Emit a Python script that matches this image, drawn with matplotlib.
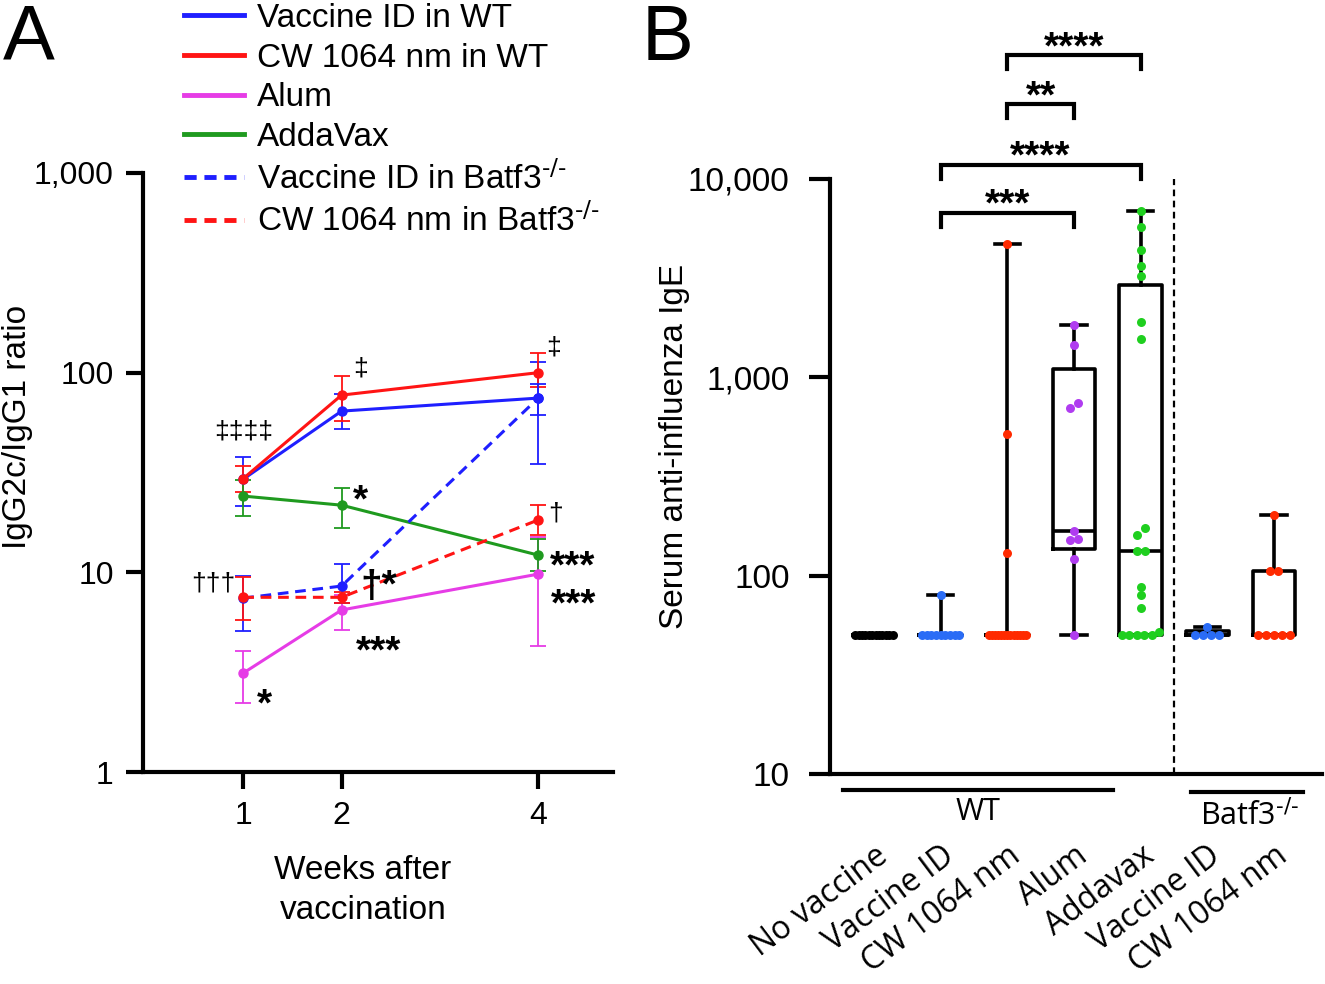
import numpy as np
import matplotlib
matplotlib.use("Agg")
import matplotlib.pyplot as plt
from matplotlib.lines import Line2D
from matplotlib.ticker import FixedLocator, NullLocator

plt.rcParams["font.family"] = ["Liberation Sans", "DejaVu Sans"]
plt.rcParams["mathtext.default"] = "regular"

# ---- panel A: IgG2c/IgG1 ratio, mean and error-bar ends
weeks = [1, 2, 4]
a_labels = ["Vaccine ID in WT", "CW 1064 nm in WT", "Alum", "AddaVax",
            "Vaccine ID in Batf3$^{\\text{-/-}}$", "CW 1064 nm in Batf3$^{\\text{-/-}}$"]
a_colors = ["#1f1fff", "#ff1414", "#e63ce6", "#1f9a1f", "#1f1fff", "#ff1414"]
a_styles = ["-", "-", "-", "-", "--", "--"]
a_mean = [[29.3, 64.2, 74.6],
          [29.5, 77.2, 100.0],
          [3.13, 6.48, 9.8],
          [24.1, 21.7, 12.2],
          [7.43, 8.54, 74.6],
          [7.5, 7.5, 18.3]]
a_low = [[21.5, 52.2, 61.1],
         [25.2, 57.2, 85.0],
         [2.21, 5.14, 4.29],
         [19.1, 16.7, 10.2],
         [5.08, 7.0, 35.0],
         [5.75, 7.0, 15.3]]
a_high = [[37.8, 78.0, 113.5],
          [34.1, 96.5, 125.0],
          [4.05, 7.7, 15.0],
          [29.0, 26.5, 14.7],
          [9.58, 11.0, 87.7],
          [9.45, 8.0, 21.7]]
# significance marks (week, value, text)
a_marks = [(1.0, 51, "\u2021\u2021\u2021\u2021"), (2.19, 105, "\u2021"), (4.16, 134, "\u2021"),
           (2.19, 25.8, "*"), (4.18, 19.8, "\u2020"), (4.35, 12.1, "***"),
           (4.36, 7.8, "***"), (2.38, 9.7, "\u2020*"), (0.70, 8.84, "\u2020\u2020\u2020"),
           (2.38, 4.53, "***"), (1.22, 2.46, "*")]

# ---- panel B: serum anti-influenza IgE per mouse
b_groups = ["No vaccine", "Vaccine ID", "CW 1064 nm", "Alum", "Addavax",
            "Vaccine ID", "CW 1064 nm"]
b_colors = ["#000000", "#2a6cf6", "#ff2a00", "#b03cf0", "#1fcf1f", "#2a6cf6", "#ff2a00"]
b_values = [[50] * 12,
            [80] + [50] * 9,
            [4700, 520, 130] + [50] * 13,
            [1840, 1460, 740, 700, 168, 153, 151, 121, 50],
            [6860, 5720, 4380, 3650, 3240, 1910, 1560, 173, 160, 133, 133,
             88, 80, 69, 52, 50, 50, 50, 50, 50],
            [55, 50, 50, 50, 50],
            [202, 106, 106, 50, 50, 50, 50, 50]]
b_pairs = [(1, 3, "***"), (1, 4, "****"), (2, 3, "**"), (2, 4, "****")]
b_pair_levels = [0.943, 1.024, 1.126, 1.208]


def spread(vals, gap=0.035, step=0.12, width=0.56):
    v = np.sort(np.asarray(vals, float))
    lv = np.log10(v)
    xs = np.zeros(len(v))
    start = 0
    for i in range(1, len(v) + 1):
        if i == len(v) or lv[i] - lv[i - 1] > gap:
            k = i - start
            s = min(step, width / (k - 1)) if k > 1 else 0
            xs[start:i] = (np.arange(k) - (k - 1) / 2) * s
            start = i
    return v, xs


fig = plt.figure(figsize=(13.25, 9.84), dpi=100)
axA = fig.add_axes([0.1079, 0.2154, 0.3547, 0.6088])
axB = fig.add_axes([0.6264, 0.2134, 0.3713, 0.6047])

# ---------------- panel A
for lab, col, ls, m, lo, hi in zip(a_labels, a_colors, a_styles, a_mean, a_low, a_high):
    m = np.array(m)
    err = [m - np.array(lo), np.array(hi) - m]
    dash = (0, (3.5, 2.2)) if ls == "--" else "-"
    axA.errorbar(weeks, m, yerr=err, color=col, ls=dash, lw=2.2, marker="o", ms=6.5,
                 elinewidth=1.3, capsize=6, capthick=1.3)

axA.set_yscale("log")
axA.set_ylim(1, 1000)
axA.set_xlim(-0.02, 4.76)
axA.yaxis.set_major_locator(FixedLocator([1, 10, 100, 1000]))
axA.yaxis.set_minor_locator(NullLocator())
axA.set_yticklabels(["1", "10", "100", "1,000"])
axA.set_xticks(weeks)
axA.set_xticklabels([str(w) for w in weeks])
for s in ["top", "right"]:
    axA.spines[s].set_visible(False)
for s in ["left", "bottom"]:
    axA.spines[s].set_linewidth(3)
axA.tick_params(axis="both", width=3, length=12, labelsize=23, pad=9)
axA.set_ylabel("IgG2c/IgG1 ratio", fontsize=24)
axA.yaxis.set_label_coords(-0.234, 0.576)
axA.set_xlabel("Weeks after\nvaccination", fontsize=24, linespacing=1.4)
axA.xaxis.set_label_coords(0.468, -0.138)

for x, y, t in a_marks:
    if "*" in t:
        axA.annotate(t, (x, y), xytext=(0, -8.5), textcoords="offset points",
                     ha="center", va="center", fontsize=28, fontweight="bold")
    else:
        axA.annotate(t, (x, y), ha="center", va="center", fontsize=19)

handles = []
for col, ls in zip(a_colors, a_styles):
    dash = (0, (2.5, 1.6)) if ls == "--" else "-"
    handles.append(Line2D([], [], color=col, lw=3.5, ls=dash))
fig.legend(handles, a_labels, loc="upper left", bbox_to_anchor=(0.139, 0.997),
           frameon=False, fontsize=24, handlelength=1.8, handletextpad=0.39,
           labelspacing=0.26, borderpad=0, borderaxespad=0)

# ---------------- panel B
pos = np.arange(len(b_groups))
stats = []
for vals in b_values:
    v = np.asarray(vals, float)
    q1, med, q3 = np.percentile(v, [25, 50, 75], method="weibull")
    stats.append(dict(med=med, q1=q1, q3=q3, whislo=v.min(), whishi=v.max(), fliers=[]))
lp = dict(color="black", lw=2.6)
axB.bxp(stats, positions=pos, widths=0.64, capwidths=0.38, showfliers=False,
        boxprops=lp, whiskerprops=lp, capprops=lp, medianprops=lp)

for p, vals, col in zip(pos, b_values, b_colors):
    v, dx = spread(vals)
    axB.scatter(p + dx, v, s=42, color=col, zorder=5, linewidths=0)

axB.axvline(4.5, color="black", lw=1.6, ls=(0, (3, 2)))
axB.set_yscale("log")
axB.set_ylim(10, 10000)
axB.set_xlim(-0.66, 6.72)
axB.yaxis.set_major_locator(FixedLocator([10, 100, 1000, 10000]))
axB.yaxis.set_minor_locator(NullLocator())
axB.set_yticklabels(["10", "100", "1,000", "10,000"])
axB.set_xticks(pos)
axB.set_xticklabels(b_groups, rotation=37, ha="right", rotation_mode="anchor",
                    fontsize=23, family="Open Sans")
for s in ["top", "right"]:
    axB.spines[s].set_visible(False)
for s in ["left", "bottom"]:
    axB.spines[s].set_linewidth(3)
axB.tick_params(axis="y", width=3, length=15, labelsize=24, pad=14)
axB.tick_params(axis="x", length=0, pad=47)
axB.set_ylabel("Serum anti-influenza IgE", fontsize=24)
axB.yaxis.set_label_coords(-0.285, 0.551)

tr = axB.get_xaxis_transform()
axB.plot([-0.47, 3.59], [-0.027, -0.027], color="black", lw=3, transform=tr, clip_on=False)
axB.plot([4.76, 6.43], [-0.031, -0.031], color="black", lw=3, transform=tr, clip_on=False)
axB.text(1.56, -0.063, "WT", transform=tr, ha="center", va="center", fontsize=22,
         family="Open Sans")
axB.text(5.64, -0.071, "Batf3$^{\\text{-/-}}$", transform=tr, ha="center", va="center",
         fontsize=22, family="Open Sans")

for (i, j, t), lev in zip(b_pairs, b_pair_levels):
    axB.plot([i, i, j, j], [lev - 0.0235, lev, lev, lev - 0.0235], color="black",
             lw=3, transform=tr, clip_on=False, solid_joinstyle="miter")
    axB.annotate(t, ((i + j) / 2, lev), xycoords=tr, xytext=(0, 5),
                 textcoords="offset points", ha="center", va="center",
                 fontsize=28, fontweight="bold")

fig.text(0.002, 0.997, "A", fontsize=56, va="top", ha="left")
fig.text(0.484, 0.997, "B", fontsize=56, va="top", ha="left")

fig.savefig("out.png", dpi=100)
